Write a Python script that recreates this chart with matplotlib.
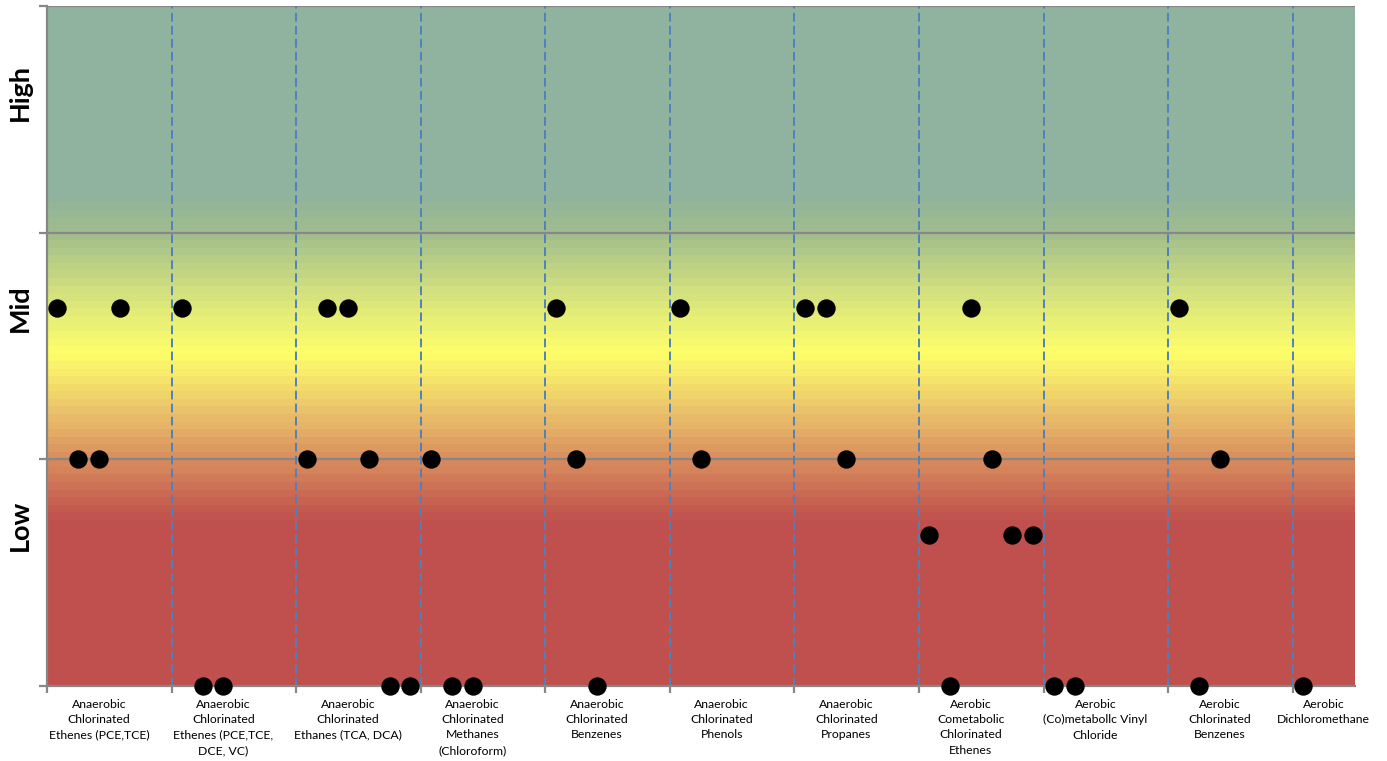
import numpy as np
import matplotlib
matplotlib.use("Agg")
import matplotlib.pyplot as plt
from matplotlib.colors import LinearSegmentedColormap
from matplotlib.transforms import blended_transform_factory

# Remediation approaches along the x axis
categories = [
    "Anaerobic\nChlorinated\nEthenes (PCE,TCE)",
    "Anaerobic\nChlorinated\nEthenes (PCE,TCE,\nDCE, VC)",
    "Anaerobic\nChlorinated\nEthanes (TCA, DCA)",
    "Anaerobic\nChlorinated\nMethanes\n(Chloroform)",
    "Anaerobic\nChlorinated\nBenzenes",
    "Anaerobic\nChlorinated\nPhenols",
    "Anaerobic\nChlorinated\nPropanes",
    "Aerobic\nCometabolic\nChlorinated\nEthenes",
    "Aerobic\n(Co)metabollc Vinyl\nChloride",
    "Aerobic\nChlorinated\nBenzenes",
    "Aerobic\nDichloromethane",
]
label_pos = [2.5, 8.5, 14.5, 20.5, 26.5, 32.5, 38.5, 44.5, 50.5, 56.5, 61.5]
boundaries = [6, 12, 18, 24, 30, 36, 42, 48, 54, 60]

# Rating bands on the y axis
band_labels = ["Low", "Mid", "High"]
band_label_y = [2.13, 5.0, 7.85]

# Scored points (position along x, score 0-9)
pts_x = [0.5, 3.5, 6.5, 13.5, 14.5, 24.5, 30.5, 36.5, 37.5, 44.5, 54.5,
         1.5, 2.5, 12.5, 15.5, 18.5, 25.5, 31.5, 38.5, 45.5, 56.5,
         42.5, 46.5, 47.5,
         7.5, 8.5, 16.5, 17.5, 19.5, 20.5, 26.5, 43.5, 48.5, 49.5, 55.5, 60.5]
pts_y = [5] * 11 + [3] * 10 + [2] * 3 + [0] * 12

XMAX, YMAX = 63, 9

fig = plt.figure(figsize=(13.87, 7.61), dpi=100)
ax = fig.add_axes([47 / 1387, 1 - 686 / 761, 1308 / 1387, 680 / 761])

# Vertical background gradient: red -> orange -> yellow -> green -> teal
stops = [
    (0.0, "#C0504D"),
    (2.2 / 9, "#C0504D"),
    (3.0 / 9, "#D98E5E"),
    (3.6 / 9, "#EAC06A"),
    (4.4 / 9, "#FFFF6A"),
    (5.3 / 9, "#CFDE80"),
    (6.0 / 9, "#A0BD8C"),
    (6.5 / 9, "#8FB39E"),
    (1.0, "#8FB39E"),
]
cmap = LinearSegmentedColormap.from_list("bands", stops, N=256)
nb = 90
grad = ((np.floor(np.linspace(0, 1, 900) * nb) + 0.5) / nb).reshape(-1, 1)
ax.imshow(grad, cmap=cmap, vmin=0, vmax=1, origin="lower", aspect="auto",
          extent=[0, XMAX, 0, YMAX], zorder=0, interpolation="nearest")

ax.set_xlim(0, XMAX)
ax.set_ylim(0, YMAX)

# Horizontal band gridlines
for gy in [3, 6, 9]:
    ax.axhline(gy, color="#878787", lw=1.6, zorder=1)

# Category separators
for bx in boundaries:
    ax.axvline(bx, color="#4F81BD", lw=1.4, ls=(0, (4.5, 2.2)), zorder=1)

ax.scatter(pts_x, pts_y, s=175, color="black", zorder=5, clip_on=False,
           linewidths=0)

for s in ["top", "right"]:
    ax.spines[s].set_visible(False)
for s in ["left", "bottom"]:
    ax.spines[s].set_color("#878787")
    ax.spines[s].set_linewidth(1.6)

ax.set_yticks([0, 3, 6, 9])
ax.set_yticklabels([])
ax.tick_params(axis="y", length=6, width=1.6, color="#878787", direction="out")

ax.set_xticks([0] + boundaries)
ax.set_xticklabels([])
ax.tick_params(axis="x", which="major", length=5, width=1.6, color="#878787",
               direction="out")
ax.set_xticks(label_pos, minor=True)
ax.set_xticklabels(categories, minor=True, fontsize=8.8, family="Lato",
                   linespacing=1.5, va="top", ha="center")
ax.tick_params(axis="x", which="minor", length=0, pad=9)

trans = blended_transform_factory(ax.transAxes, ax.transData)
for lab, yy in zip(band_labels, band_label_y):
    ax.text(-27 / 1308, yy, lab, transform=trans, rotation=90, ha="center",
            va="center", fontsize=19.5, fontweight="bold", family="Lato")

fig.savefig("out.png", dpi=100)
